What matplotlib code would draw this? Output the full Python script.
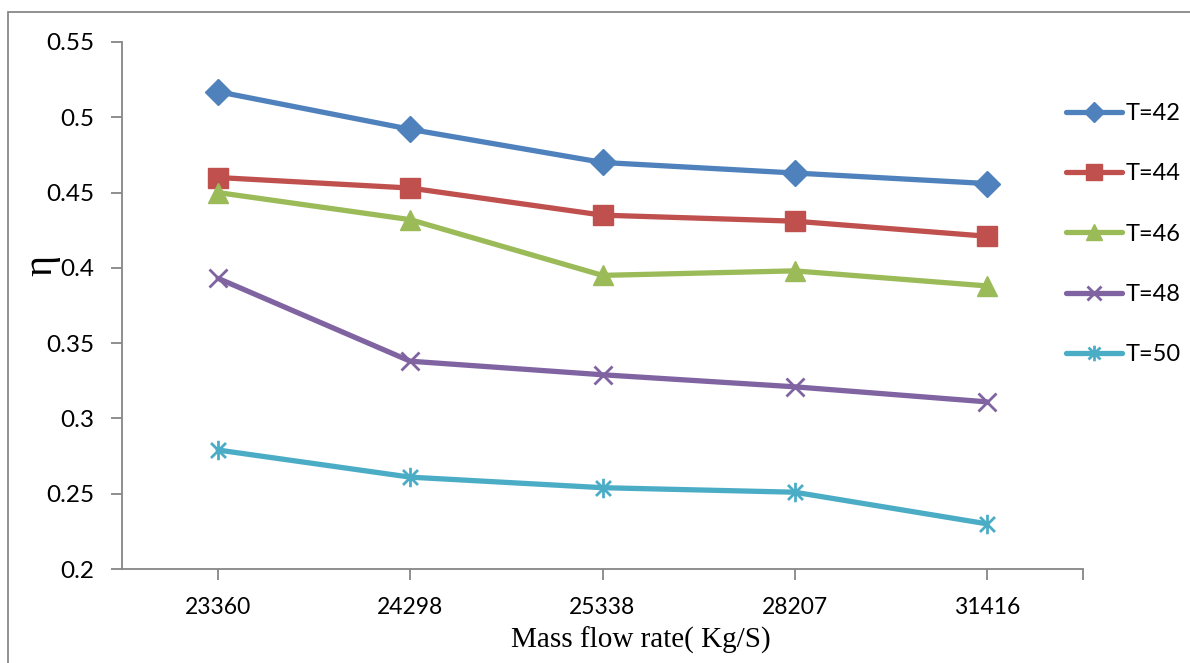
import matplotlib.pyplot as plt
from matplotlib.path import Path
from matplotlib.patches import Rectangle
import numpy as np

flow = ['23360', '24298', '25338', '28207', '31416']
series = ['T=42', 'T=44', 'T=46', 'T=48', 'T=50']
t42 = [0.517, 0.492, 0.470, 0.463, 0.456]
t44 = [0.460, 0.453, 0.435, 0.431, 0.421]
t46 = [0.450, 0.432, 0.395, 0.398, 0.388]
t48 = [0.393, 0.338, 0.329, 0.321, 0.311]
t50 = [0.279, 0.261, 0.254, 0.251, 0.230]
yticks = [0.2, 0.25, 0.3, 0.35, 0.4, 0.45, 0.5, 0.55]

colors = ['#4F81BD', '#C0504D', '#9BBB59', '#8064A2', '#4BACC6']

# asterisk marker: x with a vertical bar through it
star = Path([(-1, -1), (1, 1), (-1, 1), (1, -1), (0, -1.3), (0, 1.3)],
            [Path.MOVETO, Path.LINETO, Path.MOVETO, Path.LINETO, Path.MOVETO, Path.LINETO])
markers = ['D', 's', '^', 'x', star]
msizes = [13, 14, 14, 13, 14]

plt.rcParams['font.family'] = ['Lato', 'DejaVu Sans']

fig = plt.figure(figsize=(11.9, 6.63), dpi=100)
ax = fig.add_axes([122/1190, 1 - 569/663, (1083 - 122)/1190, (569 - 42)/663])

x = np.arange(len(flow))
for vals, name, c, m, ms in zip([t42, t44, t46, t48, t50], series, colors, markers, msizes):
    ax.plot(x, vals, color=c, lw=3.8, marker=m, ms=ms, mec=c, mfc=c,
            mew=2 if (m == 'x' or m is star) else 1, label=name, solid_capstyle='round')

ax.set_xlim(-0.5, 4.5)
ax.set_ylim(0.2, 0.55)
ax.set_yticks(yticks)
ax.set_yticklabels(['0.2', '0.25', '0.3', '0.35', '0.4', '0.45', '0.5', '0.55'])
ax.set_xticks(list(x) + [4.5])
ax.set_xticklabels(flow + [''])

for s in ['top', 'right']:
    ax.spines[s].set_visible(False)
for s in ['left', 'bottom']:
    ax.spines[s].set_color('#868686')
    ax.spines[s].set_linewidth(1.3)
ax.tick_params(axis='both', colors='#868686', width=1.3, length=8, labelcolor='black')
ax.tick_params(axis='y', pad=12, labelsize=17.5)
ax.tick_params(axis='x', pad=12, labelsize=16.5)

fig.text(641/1190, 1 - 640/663, 'Mass flow rate( Kg/S)', family='Liberation Serif',
         fontsize=21, ha='center', va='center')
fig.text(42/1190, 1 - 266/663, 'η', family='Liberation Serif', fontsize=29,
         rotation=90, ha='center', va='center')

fig.legend(loc='upper left', bbox_to_anchor=(1045/1190, 1 - 82/663), frameon=False,
           fontsize=17, handlelength=2.35, handletextpad=0.15, labelspacing=1.66, markerscale=0.8)

fig.patches.append(Rectangle((8/1190, -0.1), 1.2, 1 - 12/663 + 0.1, transform=fig.transFigure,
                             fill=False, edgecolor='#888888', lw=1.3))

fig.savefig('out.png', dpi=100)
